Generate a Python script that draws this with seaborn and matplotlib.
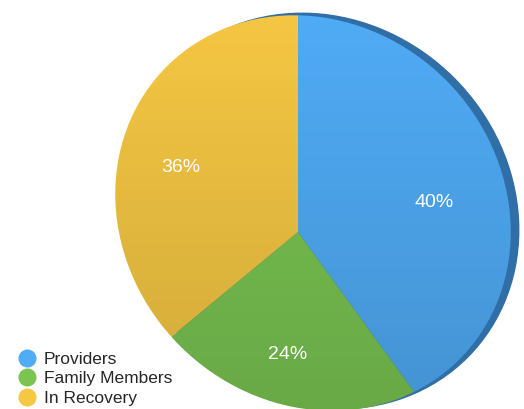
import numpy as np
import matplotlib
matplotlib.use('Agg')
import matplotlib.pyplot as plt
import seaborn as sns
from matplotlib.patches import Ellipse

# dados
groups = ['Providers', 'Family Members', 'In Recovery']
shares = [40, 24, 36]
colors = ['#50acf6', '#7ac552', '#f5c743']

sns.set_theme(style='white')
plt.rcParams['font.family'] = ['Liberation Sans', 'DejaVu Sans']

fig = plt.figure(figsize=(5.24, 4.09), dpi=100)
ax = fig.add_axes([0, 0, 1, 1])
H = 409

# contorno inclinado (efeito 3D) e vertice da pizza
ox, oy, ow, oh, oang = 313, H - 213, 2 * 207, 2 * 188, -45
vx, vy = 298, H - 232

# sombra da borda direita
ax.add_patch(Ellipse((ox + 8, oy + 2), ow, oh, angle=oang, color='#2f6ea6', zorder=0))
outline = Ellipse((ox, oy), ow, oh, angle=oang, transform=ax.transData)

wedges, texts, autotexts = ax.pie(
    shares, colors=colors, startangle=90, counterclock=False,
    center=(vx, vy), radius=260, autopct='%d%%', pctdistance=0.51,
    textprops=dict(color='white', fontsize=14), frame=True,
    wedgeprops=dict(linewidth=0, zorder=1))
for w in wedges:
    w.set_clip_on(True)
    w.set_clip_path(outline)

# pequenos ajustes dos rótulos (perspectiva)
for t, (dx, dy) in zip(autotexts, [(10, -11), (6, 9), (3, 8)]):
    x, y = t.get_position()
    t.set_position((x + dx, y + dy))
    t.set_zorder(3)

# sombreamento vertical
shade = np.zeros((256, 1, 4))
shade[..., 3] = np.linspace(0.15, 0.0, 256).reshape(-1, 1)
im = ax.imshow(shade, extent=(ox - 215, ox + 215, oy - 215, oy + 215),
               origin='lower', aspect='auto', zorder=2)
im.set_clip_path(outline)

ax.set_xlim(0, 524)
ax.set_ylim(0, H)
ax.set_aspect('auto')
ax.axis('off')

handles = [plt.Line2D([], [], marker='o', linestyle='', markersize=13,
                      markerfacecolor=c, markeredgewidth=0) for c in colors]
fig.legend(handles, groups, loc='lower left', bbox_to_anchor=(0.006, -0.03),
           frameon=False, fontsize=12.5, handletextpad=0.45, labelspacing=0.24,
           handlelength=1.0)

fig.savefig('out.png', dpi=100)
